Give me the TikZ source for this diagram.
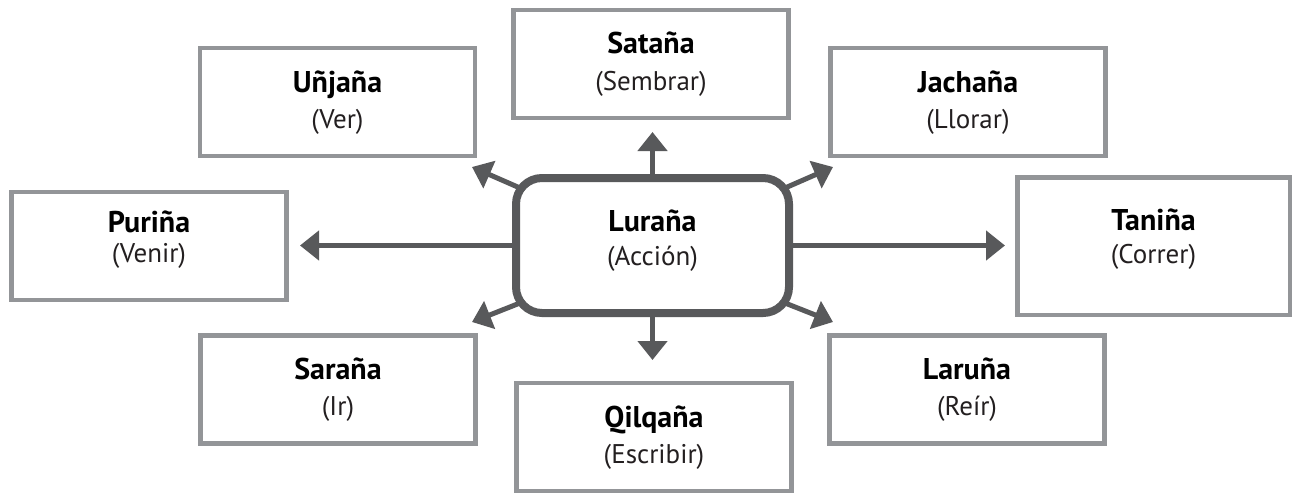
\documentclass[tikz,border=0pt]{standalone}
\usepackage{fontspec}
\setmainfont{PT Sans}
\usetikzlibrary{arrows.meta,calc}
\definecolor{darkg}{HTML}{58595B}
\definecolor{lightg}{HTML}{939598}
\definecolor{subcol}{HTML}{231F20}
\begin{document}
\begin{tikzpicture}[x=1pt,y=-1pt,
  leafbox/.style={draw=lightg, line width=4.5pt, fill=white, minimum width=275pt, minimum height=108pt, inner sep=0pt},
  hubbox/.style={draw=darkg, line width=8pt, fill=white, rounded corners=26pt, minimum width=273pt, minimum height=135pt, inner sep=0pt},
  titletxt/.style={font=\fontsize{30}{33}\selectfont\bfseries, text=black, anchor=base, inner sep=0pt},
  subtxt/.style={font=\fontsize{27}{30}\selectfont, text=subcol, anchor=base, inner sep=0pt},
  conn/.style={draw=darkg, line width=5pt, -{Triangle[length=19pt,width=29pt]}},
]
\useasboundingbox (0,0) rectangle (1295,501);
\fill[white] (0,0) rectangle (1295,501);

% leaf boxes
\node[leafbox] (u) at (337.5,102) {};
\node[leafbox] (s) at (651,64) {};
\node[leafbox] (j) at (968,102) {};
\node[leafbox] (p) at (149,246) {};
\node[leafbox, minimum width=272.5pt, minimum height=137.5pt] (t) at (1153.5,246) {};
\node[leafbox] (r) at (338,389.5) {};
\node[leafbox] (q) at (654,437) {};
\node[leafbox] (l) at (967,389.5) {};

% hub
\node[hubbox] (hub) at (652.5,245.5) {};

% arrow end points
\coordinate (hubNW) at (520,188);
\coordinate (hubNE) at (785,188);
\coordinate (hubSW) at (520,303);
\coordinate (hubSE) at (785,303);
\coordinate (uTip) at (472,167);
\coordinate (jTip) at (833,167);
\coordinate (rTip) at (472,322);
\coordinate (lTip) at (833,322);
\coordinate (sTip) at (652.5,132);
\coordinate (qTip) at (652.5,360);
\coordinate (pTip) at (300,245.5);
\coordinate (tTip) at (1005,245.5);

\draw[conn] (hub.north) -- (sTip);
\draw[conn] (hub.south) -- (qTip);
\draw[conn] (hub.west) -- (pTip);
\draw[conn] (hub.east) -- (tTip);
\draw[conn] (hubNW) -- (uTip);
\draw[conn] (hubNE) -- (jTip);
\draw[conn] (hubSW) -- (rTip);
\draw[conn] (hubSE) -- (lTip);

% texts
\node[titletxt] (uT) at (337.5,92) {Uñjaña};
\node[subtxt] (uS) at (337.5,128) {(Ver)};
\node[titletxt] (sT) at (651,53) {Sataña};
\node[subtxt] (sS) at (651,90) {(Sembrar)};
\node[titletxt] (jT) at (968,92) {Jachaña};
\node[subtxt] (jS) at (968,128) {(Llorar)};
\node[titletxt] (pT) at (149,232) {Puriña};
\node[subtxt] (pS) at (149,262) {(Venir)};
\node[titletxt] (tT) at (1153.5,230) {Taniña};
\node[subtxt] (tS) at (1153.5,263) {(Correr)};
\node[titletxt] (rT) at (338,379.5) {Saraña};
\node[subtxt] (rS) at (338,415.5) {(Ir)};
\node[titletxt] (qT) at (654,427) {Qilqaña};
\node[subtxt] (qS) at (654,463) {(Escribir)};
\node[titletxt] (lT) at (967,379.5) {Laruña};
\node[subtxt] (lS) at (967,415.5) {(Reír)};
\node[titletxt] (hT) at (652.5,231) {Luraña};
\node[subtxt] (hS) at (652.5,265) {(Acción)};
\end{tikzpicture}
\end{document}
